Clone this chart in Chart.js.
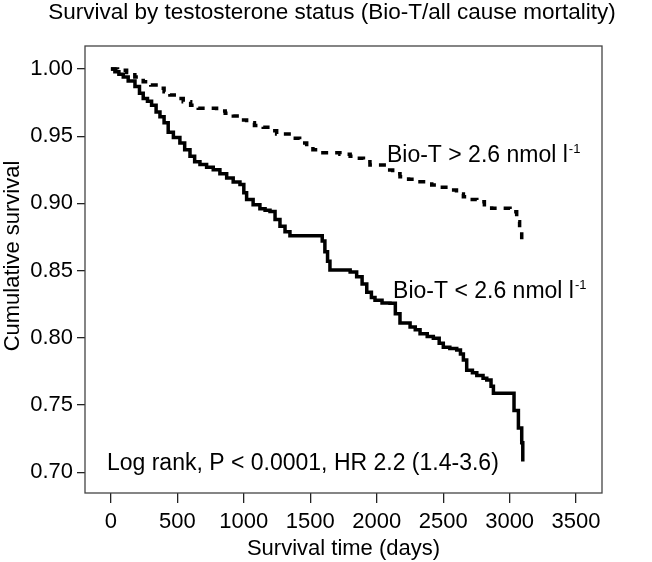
<!DOCTYPE html>
<html>
<head>
<meta charset="utf-8">
<script src="https://cdn.jsdelivr.net/npm/chart.js@4"></script>
<style>
  html, body { margin: 0; padding: 0; background: #fff; }
  canvas { display: block; }
</style>
</head>
<body>
<canvas id="kmChart" width="652" height="562"></canvas>
<script>
// Kaplan-Meier readings (days, cumulative survival)
var lowDays = [0, 30, 60, 93, 130, 181, 215, 243, 275, 306, 340, 369, 400, 431, 470, 519, 555, 595, 630, 670, 720, 770, 820, 871, 920, 971, 1000, 1021, 1070, 1121, 1160, 1197, 1235, 1272, 1310, 1347, 1590, 1610, 1630, 1648, 1800, 1849, 1890, 1925, 1960, 1987, 2040, 2100, 2140, 2175, 2251, 2290, 2326, 2380, 2426, 2470, 2501, 2550, 2602, 2630, 2652, 2677, 2720, 2753, 2800, 2828, 2860, 2878, 3033, 3066, 3091, 3099];
var lowSurv = [1.000, 0.998, 0.996, 0.994, 0.991, 0.987, 0.982, 0.978, 0.976, 0.973, 0.968, 0.9645, 0.960, 0.953, 0.949, 0.945, 0.940, 0.935, 0.931, 0.929, 0.927, 0.925, 0.922, 0.919, 0.916, 0.914, 0.908, 0.903, 0.899, 0.896, 0.895, 0.894, 0.888, 0.883, 0.879, 0.876, 0.872, 0.864, 0.857, 0.8505, 0.849, 0.8455, 0.840, 0.834, 0.830, 0.828, 0.826, 0.8257, 0.818, 0.811, 0.808, 0.806, 0.803, 0.801, 0.7997, 0.796, 0.793, 0.792, 0.791, 0.788, 0.7835, 0.776, 0.774, 0.772, 0.770, 0.7687, 0.764, 0.7588, 0.746, 0.733, 0.722, 0.708];

var highDays = [0, 50, 118, 180, 243, 300, 356, 400, 444, 500, 544, 600, 657, 795, 860, 921, 970, 1021, 1080, 1146, 1200, 1247, 1372, 1420, 1473, 1520, 1573, 1723, 1800, 1849, 1900, 1949, 2075, 2120, 2175, 2240, 2301, 2414, 2480, 2539, 2600, 2652, 2700, 2753, 2810, 2865, 3003, 3053, 3075, 3091, 3095];
var highSurv = [1.000, 0.999, 0.9973, 0.994, 0.9906, 0.988, 0.9856, 0.983, 0.9807, 0.978, 0.9757, 0.973, 0.9708, 0.9688, 0.967, 0.965, 0.962, 0.960, 0.958, 0.9566, 0.954, 0.9516, 0.9484, 0.945, 0.9422, 0.940, 0.9377, 0.9365, 0.935, 0.9336, 0.931, 0.9286, 0.9249, 0.922, 0.9199, 0.918, 0.9162, 0.9137, 0.912, 0.910, 0.907, 0.905, 0.903, 0.9013, 0.899, 0.8964, 0.8938, 0.8864, 0.881, 0.8728, 0.870];

var xTicks = [0, 500, 1000, 1500, 2000, 2500, 3000, 3500];
var yTicks = [0.70, 0.75, 0.80, 0.85, 0.90, 0.95, 1.00];

var chartTitle = 'Survival by testosterone status (Bio-T/all cause mortality)';
var xTitle = 'Survival time (days)';
var yTitle = 'Cumulative survival';
var highLabel = 'Bio-T > 2.6 nmol l';
var lowLabel = 'Bio-T < 2.6 nmol l';
var statsLabel = 'Log rank, P < 0.0001, HR 2.2 (1.4-3.6)';

var FONT = '"Liberation Sans", Arial, sans-serif';

function toPoints(xs, ys) {
  var pts = [];
  for (var i = 0; i < xs.length; i++) pts.push({x: xs[i], y: ys[i]});
  return pts;
}

// box, title, y title and in-plot labels
var decorPlugin = {
  id: 'decor',
  afterDraw: function(chart) {
    var ctx = chart.ctx;
    var a = chart.chartArea;
    var xs = chart.scales.x, ys = chart.scales.y;
    ctx.save();
    ctx.strokeStyle = '#444';
    ctx.lineWidth = 1.3;
    ctx.strokeRect(a.left, a.top, a.right - a.left, a.bottom - a.top);

    ctx.fillStyle = '#000';
    ctx.font = '22.5px ' + FONT;
    ctx.textAlign = 'center';
    ctx.textBaseline = 'middle';
    ctx.fillText(chartTitle, 332, 13);

    ctx.font = '22px ' + FONT;
    ctx.save();
    ctx.translate(13, 256);
    ctx.rotate(-Math.PI / 2);
    ctx.fillText(yTitle, 0, 0);
    ctx.restore();

    ctx.textAlign = 'left';
    ctx.textBaseline = 'alphabetic';
    function supLabel(txt, d, s) {
      var px = xs.getPixelForValue(d), py = ys.getPixelForValue(s);
      ctx.font = '23px ' + FONT;
      ctx.fillText(txt, px, py);
      var w = ctx.measureText(txt).width;
      ctx.font = '13px ' + FONT;
      ctx.fillText('-1', px + w + 1, py - 9);
    }
    supLabel(highLabel, 2077, 0.9308);
    supLabel(lowLabel, 2123, 0.8297);
    ctx.font = '23px ' + FONT;
    ctx.fillText(statsLabel, xs.getPixelForValue(-30), ys.getPixelForValue(0.7017));
    ctx.restore();
  }
};

var config = {
  type: 'line',
  data: {
    datasets: [{
      label: 'Bio-T < 2.6',
      data: toPoints(lowDays, lowSurv),
      stepped: 'before',
      borderColor: '#000',
      borderWidth: 3.5,
      pointRadius: 0,
      fill: false
    }, {
      label: 'Bio-T > 2.6',
      data: toPoints(highDays, highSurv),
      stepped: 'before',
      borderColor: '#000',
      borderWidth: 3.5,
      borderDash: [7, 7],
      pointRadius: 0,
      fill: false
    }]
  },
  options: {
    responsive: false,
    animation: false,
    devicePixelRatio: 1,
    layout: { padding: { top: 46, right: 50, left: 0, bottom: 0 } },
    plugins: {
      legend: { display: false },
      title: { display: false },
      tooltip: { enabled: false }
    },
    scales: {
      x: {
        type: 'linear',
        min: -195,
        max: 3695,
        afterFit: function(s) { s.height = 69; },
        afterBuildTicks: function(s) { s.ticks = xTicks.map(function(v) { return {value: v}; }); },
        border: { display: false },
        grid: { drawOnChartArea: false, tickLength: 10, color: '#222', lineWidth: 1.3 },
        ticks: { color: '#000', padding: 6, maxRotation: 0, font: { family: FONT, size: 22 },
          callback: function(v) { return String(v); } },
        title: { display: true, text: xTitle, color: '#000', padding: { top: 0, bottom: 0 }, font: { family: FONT, size: 22 } }
      },
      y: {
        type: 'linear',
        min: 0.6846,
        max: 1.0171,
        afterFit: function(s) { s.width = 85; },
        afterBuildTicks: function(s) { s.ticks = yTicks.map(function(v) { return {value: v}; }); },
        border: { display: false },
        grid: { drawOnChartArea: false, tickLength: 8, color: '#222', lineWidth: 1.3 },
        ticks: { color: '#000', padding: 4, font: { family: FONT, size: 22 },
          callback: function(v) { return v.toFixed(2); } }
      }
    }
  },
  plugins: [decorPlugin]
};

var chart = new Chart(document.getElementById('kmChart'), config);
</script>
</body>
</html>
